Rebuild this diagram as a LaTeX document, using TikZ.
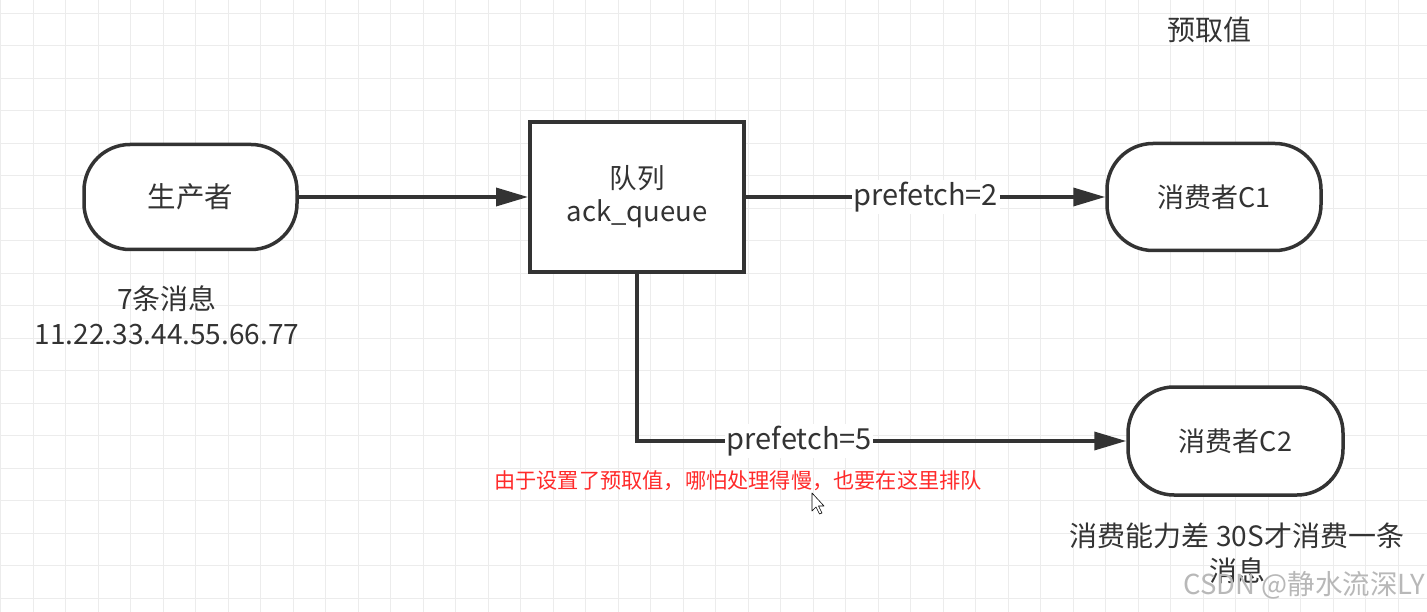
\documentclass[tikz,border=0pt]{standalone}
\usepackage{fontspec}
\setmainfont{Noto Sans CJK SC}
\usetikzlibrary{arrows.meta}

\definecolor{ink}{HTML}{333333}
\definecolor{gridc}{HTML}{ECECEC}
\definecolor{warnred}{HTML}{FF2A2A}

\tikzset{
  gridline/.style={draw=gridc, line width=1pt},
  term/.style={draw=ink, line width=3.5pt, fill=white, rounded corners=46pt,
    inner sep=0pt, text=ink, font=\fontsize{27}{30}\selectfont},
  queuebox/.style={draw=ink, line width=4pt, fill=white, inner sep=0pt,
    text=ink, align=center, font=\fontsize{27.5}{33}\selectfont},
  conn/.style={draw=ink, line width=3.5pt, -{Triangle[length=32pt,width=18pt]}},
  lbl/.style={fill=white, inner sep=1.5pt, text=ink, font=\fontsize{29}{30}\selectfont},
  note/.style={text=ink, align=center, inner sep=0pt, font=\fontsize{28}{35}\selectfont},
  warn/.style={text=warnred, inner sep=0pt, font=\fontsize{21.2}{26}\selectfont},
  wmark/.style={text=black!28, inner sep=0pt, font=\fontsize{27.5}{28}\selectfont}
}

\begin{document}
\begin{tikzpicture}[x=1pt,y=-1pt]
\useasboundingbox (0,0) rectangle (1427,612);
\fill[white] (0,0) rectangle (1427,612);

% background grid
\foreach \i in {0,...,43} \draw[gridline] ({0.8+32.5*\i},0) -- ({0.8+32.5*\i},612);
\foreach \j in {0,...,18} \draw[gridline] (0,{13.3+32.5*\j}) -- (1427,{13.3+32.5*\j});

% producer, queue and the two consumers
\node[term, font=\fontsize{28.5}{30}\selectfont, minimum width=213pt, minimum height=105pt] (prod) at (190.5,197) {生产者};
\node[queuebox, minimum width=214pt, minimum height=150pt] (queue) at (637,197) {队列\\ack\_queue};
\node[term, minimum width=214pt, minimum height=107pt] (c1) at (1214,197) {消费者C1};
\node[term, minimum width=215pt, minimum height=108pt] (c2) at (1235.5,441) {消费者C2};

% message flow
\draw[conn] (prod) -- (queue);
\draw[conn] (queue) -- node[lbl] {prefetch=2} (c1);
\draw[conn] (queue.south) |- node[lbl, pos=0.666] {prefetch=5} (c2.west);

% annotations
\node[note] (msgs) at (167,315) {7条消息\\11.22.33.44.55.66.77};
\node[note] (pre) at (1209,30) {预取值};
\node[warn] (why) at (738,481) {由于设置了预取值，哪怕处理得慢，也要在这里排队};
\node[note] (slow) at (1237,553) {消费能力差 30S才消费一条\\消息};
\node[wmark, anchor=east] (wm) at (1425,585) {CSDN @静水流深LY};

% mouse pointer
\draw[black, line width=0.6pt, fill=white, line join=round]
  (812,493) -- (812,511) -- (816,507) -- (819.5,514) -- (822,513) -- (818.5,506) -- (824,506) -- cycle;
\end{tikzpicture}
\end{document}
